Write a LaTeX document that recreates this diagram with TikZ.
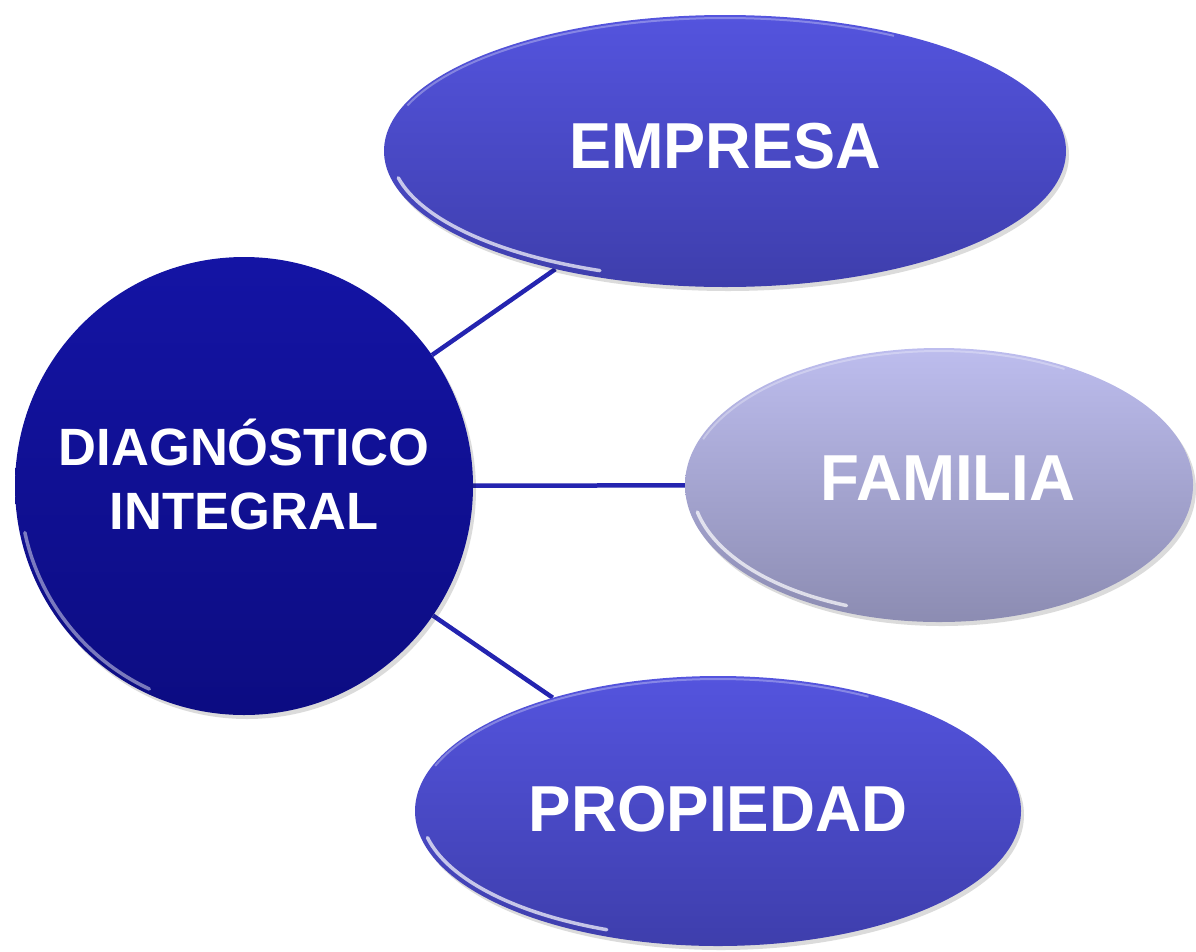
\documentclass[tikz,border=0pt]{standalone}
\usepackage{fontspec}
\setmainfont{Liberation Sans}
\usetikzlibrary{shapes.geometric,backgrounds,shadows}
\definecolor{circTop}{HTML}{1414A4}
\definecolor{circBot}{HTML}{0C0C82}
\definecolor{ovTop}{HTML}{5454DE}
\definecolor{ovBot}{HTML}{3E3EAC}
\definecolor{famTop}{HTML}{BDBDEE}
\definecolor{famBot}{HTML}{8C8CB2}
\definecolor{linkBlue}{HTML}{2424B0}
\newcommand{\liftby}[2]{\raisebox{#1}[\height][\depth]{#2}}
\tikzset{
  bubble/.style={ellipse, inner sep=0pt, text=white, font=\bfseries\fontsize{65}{70}\selectfont,
    drop shadow={shadow xshift=3pt, shadow yshift=-4pt, opacity=0.14, fill=black}},
  darkbubble/.style={bubble, top color=ovTop, bottom color=ovBot},
  lightbubble/.style={bubble, top color=famTop, bottom color=famBot},
  hub/.style={circle, inner sep=0pt, minimum size=458pt, top color=circTop, bottom color=circBot,
    text=white, font=\bfseries\fontsize{52.5}{64}\selectfont,
    drop shadow={shadow xshift=3pt, shadow yshift=-4pt, opacity=0.14, fill=black}},
  link/.style={draw=linkBlue, line width=4.5pt},
  gloss/.style={white, opacity=0.7, line width=3.5pt, line cap=round},
  rim/.style={white, opacity=0.3, line width=2pt}
}
\begin{document}
\begin{tikzpicture}[x=1pt,y=-1pt]
\useasboundingbox (0,0) rectangle (1196,951);
\node[hub] (diag) at (244,486) {\liftby{2pt}{\begin{tabular}{@{}c@{}}DIAGN\'OSTICO\\INTEGRAL\end{tabular}}};
\node[darkbubble, minimum width=682pt, minimum height=272pt] (emp) at (725,151) {\liftby{5pt}{\scalebox{0.97}[1]{EMPRESA}}};
\node[lightbubble, minimum width=508pt, minimum height=274pt] (fam) at (939,485) {\hspace*{18pt}\liftby{7pt}{\scalebox{0.98}[1]{FAMILIA}}};
\node[darkbubble, minimum width=606pt, minimum height=270pt] (prop) at (718,811) {\liftby{2pt}{\scalebox{0.98}[1]{PROPIEDAD}}};
% glossy highlights
\draw[gloss, opacity=0.45] (diag.center) ++(115:224) arc[start angle=115, end angle=168, radius=224];
\draw[gloss] (emp.center) ++(112:334 and 129) arc[start angle=112, end angle=168, x radius=334, y radius=129];
\draw[gloss] (fam.center) ++(112:247 and 130) arc[start angle=112, end angle=168, x radius=247, y radius=130];
\draw[gloss] (prop.center) ++(112:297 and 128) arc[start angle=112, end angle=168, x radius=297, y radius=128];
\draw[rim] (emp.center) ++(200:338 and 133) arc[start angle=200, end angle=300, x radius=338, y radius=133];
\draw[rim] (prop.center) ++(200:301 and 132) arc[start angle=200, end angle=300, x radius=301, y radius=132];
\draw[rim] (fam.center) ++(200:251 and 134) arc[start angle=200, end angle=300, x radius=251, y radius=134];
\begin{pgfonlayer}{background}
\draw[link] (diag) -- (emp);
\draw[link] (diag) -- (fam);
\draw[link] (diag) -- (prop);
\end{pgfonlayer}
\end{tikzpicture}
\end{document}
